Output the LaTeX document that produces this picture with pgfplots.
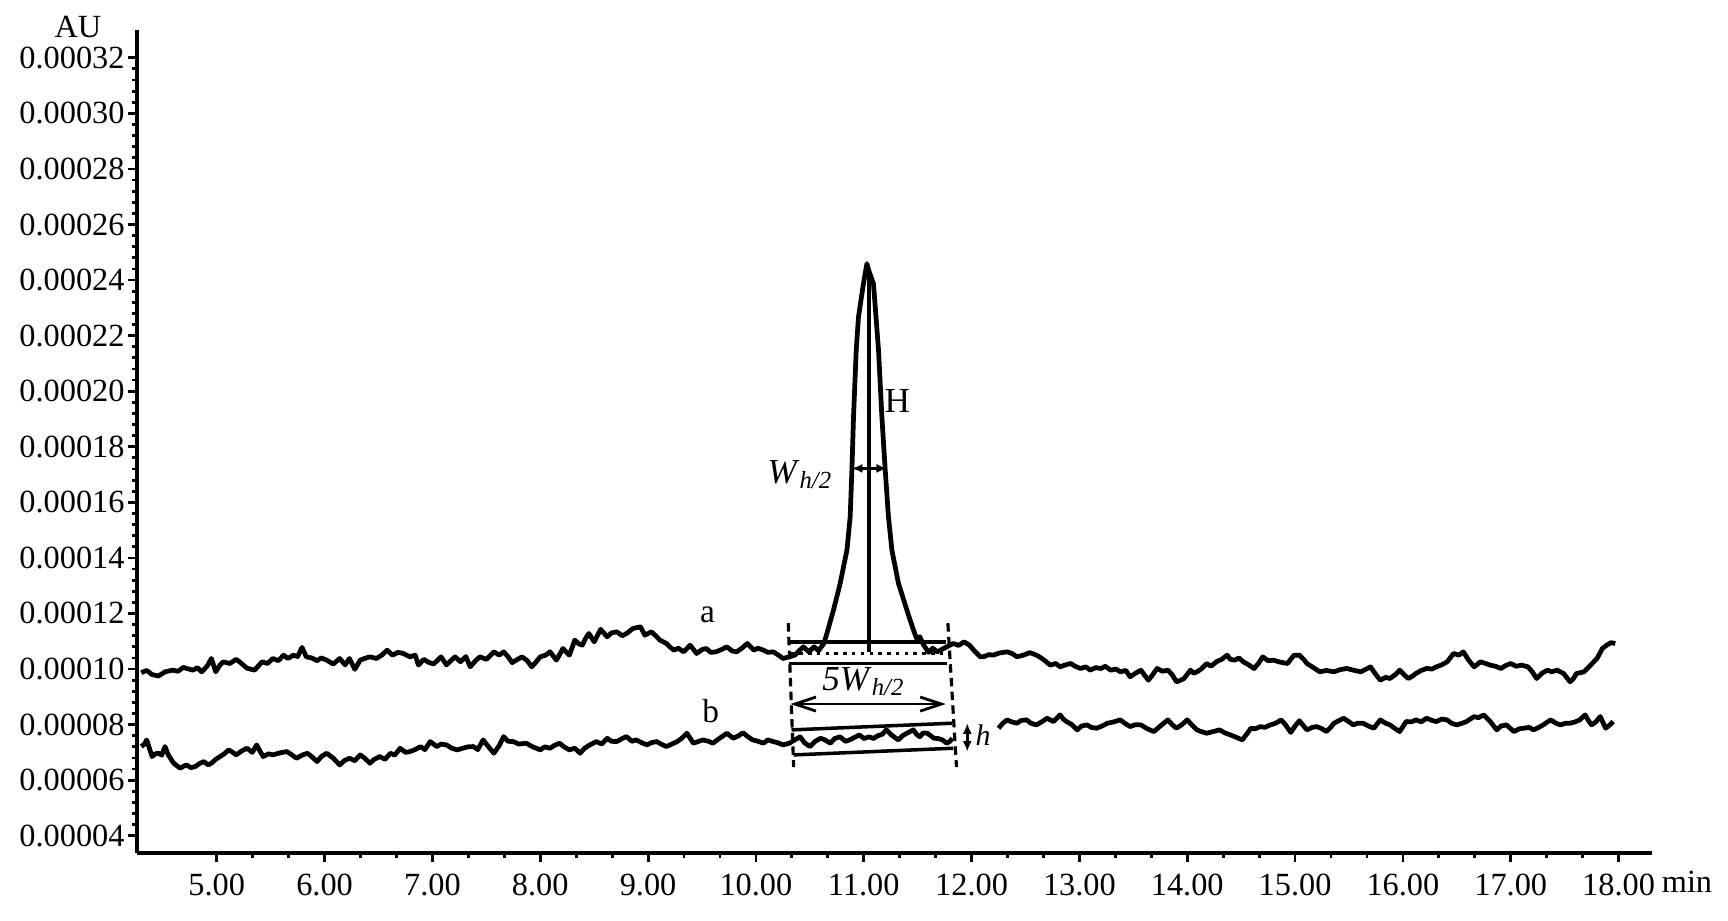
\documentclass[border=0pt]{standalone}
\usepackage{pgfplots}
\pgfplotsset{compat=1.18}
\usepackage{fontspec}
\setmainfont{Liberation Serif}
\usetikzlibrary{arrows.meta}

\pgfplotstableread{
t v
4.30 9.87
4.35 9.95
4.40 9.80
4.46 9.75
4.52 9.90
4.59 9.96
4.64 9.92
4.69 10.06
4.74 10.00
4.78 9.96
4.82 10.05
4.86 9.90
4.91 10.10
4.95 10.38
4.99 9.90
5.03 10.15
5.06 10.26
5.12 10.20
5.18 10.35
5.23 10.20
5.28 10.03
5.35 9.96
5.42 10.26
5.47 10.20
5.52 10.38
5.57 10.30
5.62 10.50
5.66 10.38
5.71 10.50
5.75 10.45
5.79 10.78
5.83 10.44
5.88 10.40
5.93 10.30
5.97 10.40
6.02 10.32
6.08 10.18
6.14 10.38
6.19 10.15
6.23 10.38
6.28 9.99
6.33 10.32
6.37 10.38
6.42 10.44
6.48 10.38
6.53 10.50
6.58 10.68
6.63 10.50
6.68 10.60
6.73 10.56
6.79 10.44
6.84 10.50
6.87 10.14
6.92 10.35
6.96 10.25
7.01 10.18
7.08 10.44
7.13 10.15
7.17 10.30
7.21 10.44
7.26 10.26
7.31 10.45
7.35 10.08
7.40 10.30
7.44 10.44
7.50 10.35
7.57 10.62
7.62 10.50
7.66 10.62
7.70 10.45
7.74 10.23
7.79 10.35
7.83 10.44
7.88 10.30
7.92 10.08
7.96 10.25
8.00 10.44
8.05 10.50
8.09 10.62
8.15 10.32
8.21 10.74
8.27 10.50
8.32 11.04
8.36 10.90
8.39 10.86
8.42 11.10
8.45 11.28
8.50 10.98
8.56 11.43
8.62 11.16
8.66 11.30
8.71 11.34
8.76 11.20
8.80 11.28
8.86 11.46
8.93 11.52
8.97 11.22
9.03 11.34
9.07 11.20
9.11 11.04
9.17 10.92
9.20 10.80
9.24 10.68
9.28 10.75
9.33 10.62
9.39 10.86
9.45 10.56
9.50 10.70
9.54 10.74
9.58 10.60
9.63 10.62
9.68 10.70
9.73 10.80
9.78 10.65
9.82 10.62
9.87 10.75
9.92 10.92
9.98 10.68
10.02 10.75
10.07 10.68
10.11 10.60
10.16 10.62
10.21 10.50
10.25 10.38
10.31 10.44
10.36 10.50
10.40 10.65
10.44 10.80
10.49 10.62
10.54 10.80
10.58 10.66
10.63 10.92
10.658 11.28
10.719 12.12
10.781 13.08
10.844 14.28
10.874 15.48
10.890 17.16
10.905 19.08
10.930 21.47
10.951 22.67
10.997 23.87
11.029 24.59
11.050 24.30
11.090 23.87
11.137 21.47
11.168 19.08
11.199 17.16
11.229 15.48
11.261 14.28
11.322 13.08
11.400 12.12
11.461 11.40
11.49 11.10
11.52 11.16
11.55 10.90
11.60 10.60
11.64 10.75
11.68 10.62
11.72 10.70
11.77 10.80
11.83 10.92
11.88 10.85
11.93 10.98
11.98 10.86
12.02 10.68
12.08 10.44
12.11 10.44
12.16 10.52
12.20 10.50
12.26 10.58
12.33 10.62
12.38 10.55
12.42 10.44
12.48 10.50
12.54 10.59
12.59 10.52
12.63 10.44
12.68 10.30
12.73 10.14
12.78 10.20
12.82 10.08
12.87 10.15
12.92 10.20
12.96 10.10
13.01 10.02
13.06 10.08
13.10 9.96
13.15 10.05
13.20 10.02
13.24 10.10
13.29 9.96
13.34 10.00
13.38 9.90
13.43 9.95
13.47 9.72
13.52 9.85
13.57 9.96
13.60 9.80
13.64 9.60
13.68 9.80
13.72 10.02
13.77 9.92
13.82 9.96
13.86 9.80
13.90 9.54
13.94 9.60
13.97 9.66
14.03 9.96
14.06 9.85
14.09 9.90
14.13 10.00
14.18 10.20
14.22 10.10
14.27 10.26
14.32 10.35
14.37 10.50
14.40 10.35
14.44 10.32
14.48 10.40
14.52 10.26
14.57 10.15
14.62 10.02
14.66 10.20
14.70 10.44
14.75 10.30
14.80 10.32
14.86 10.25
14.93 10.20
14.99 10.50
15.04 10.50
15.08 10.35
15.11 10.20
15.17 10.05
15.23 9.90
15.29 9.95
15.36 9.90
15.42 9.98
15.48 10.02
15.55 9.95
15.61 9.90
15.66 10.00
15.70 10.08
15.74 9.85
15.79 9.60
15.84 9.70
15.88 9.66
15.93 9.80
15.97 9.96
16.01 9.80
16.05 9.66
16.09 9.75
16.12 9.84
16.17 9.95
16.22 10.02
16.27 10.00
16.31 10.08
16.36 10.15
16.41 10.26
16.47 10.56
16.52 10.50
16.56 10.62
16.61 10.32
16.66 10.08
16.72 10.26
16.77 10.20
16.81 10.14
16.86 10.10
16.91 10.02
16.95 10.12
17.00 10.20
17.05 10.10
17.10 10.14
17.16 10.08
17.20 9.90
17.24 9.66
17.29 9.85
17.34 9.96
17.38 9.90
17.43 9.96
17.49 9.84
17.55 9.54
17.58 9.65
17.61 9.84
17.68 9.90
17.74 10.14
17.80 10.38
17.85 10.74
17.89 10.86
17.93 10.95
17.97 10.92
}\traceA

\pgfplotstableread{
t v
4.30 7.21
4.33 7.30
4.35 7.45
4.40 6.85
4.43 6.95
4.46 6.97
4.49 6.90
4.52 7.21
4.55 6.91
4.60 6.61
4.66 6.43
4.69 6.50
4.72 6.55
4.76 6.45
4.80 6.49
4.84 6.60
4.88 6.67
4.92 6.55
4.95 6.61
4.99 6.75
5.03 6.85
5.07 6.95
5.11 7.09
5.15 7.00
5.18 6.91
5.23 7.05
5.28 7.15
5.33 7.00
5.37 7.27
5.40 7.05
5.43 6.85
5.48 6.95
5.52 6.91
5.58 6.98
5.65 7.03
5.70 6.90
5.74 6.79
5.79 6.90
5.84 6.97
5.88 6.85
5.93 6.67
5.97 6.85
6.02 6.97
6.08 6.79
6.14 6.55
6.18 6.70
6.23 6.79
6.28 6.70
6.33 6.91
6.37 6.80
6.42 6.61
6.46 6.75
6.51 6.85
6.56 6.75
6.61 6.97
6.65 6.90
6.70 7.15
6.75 7.00
6.79 7.03
6.84 7.10
6.89 7.21
6.93 7.10
6.98 7.39
7.04 7.21
7.08 7.30
7.13 7.27
7.18 7.15
7.23 7.09
7.28 7.15
7.33 7.20
7.38 7.21
7.42 7.10
7.47 7.45
7.52 7.20
7.57 6.97
7.62 7.25
7.66 7.57
7.70 7.40
7.75 7.39
7.80 7.30
7.87 7.33
7.93 7.20
8.00 7.09
8.04 7.20
8.09 7.15
8.13 7.25
8.18 7.33
8.22 7.20
8.27 7.09
8.32 7.15
8.37 6.97
8.41 7.15
8.46 7.27
8.52 7.39
8.57 7.30
8.62 7.51
8.66 7.40
8.71 7.39
8.76 7.50
8.80 7.57
8.85 7.40
8.89 7.45
8.94 7.35
8.99 7.27
9.03 7.35
9.08 7.39
9.12 7.30
9.17 7.21
9.22 7.30
9.27 7.39
9.31 7.50
9.36 7.69
9.42 7.33
9.47 7.40
9.51 7.45
9.56 7.40
9.60 7.33
9.66 7.50
9.73 7.69
9.79 7.51
9.84 7.60
9.88 7.71
9.93 7.55
9.97 7.45
10.02 7.40
10.07 7.33
10.11 7.45
10.16 7.39
10.20 7.35
10.25 7.27
10.31 7.33
10.36 7.45
10.41 7.56
10.45 7.35
10.50 7.21
10.55 7.40
10.60 7.51
10.64 7.45
10.69 7.33
10.73 7.50
10.78 7.56
10.83 7.40
10.87 7.45
10.92 7.55
10.96 7.63
11.00 7.50
11.05 7.56
11.09 7.50
11.13 7.60
11.17 7.65
11.21 7.81
11.25 7.65
11.28 7.56
11.32 7.45
11.36 7.60
11.40 7.69
11.43 7.75
11.46 7.81
11.49 7.65
11.52 7.56
11.55 7.70
11.59 7.69
11.62 7.60
11.65 7.51
11.69 7.50
11.73 7.45
11.77 7.33
11.80 7.40
11.82 7.51
}\traceBone

\pgfplotstableread{
t v
12.25 7.87
12.29 8.05
12.33 8.17
12.37 8.10
12.42 8.05
12.46 8.15
12.51 8.17
12.55 8.05
12.60 7.99
12.65 8.10
12.70 8.23
12.76 8.11
12.82 8.35
12.85 8.20
12.88 8.11
12.93 8.00
12.98 7.81
13.02 7.95
13.07 7.99
13.11 7.90
13.16 7.87
13.21 7.95
13.26 8.05
13.32 8.10
13.38 8.17
13.42 8.05
13.47 7.93
13.52 8.00
13.57 7.99
13.63 7.85
13.69 7.75
13.75 7.95
13.82 8.17
13.86 8.00
13.90 7.87
13.95 8.00
14.00 8.17
14.04 8.00
14.09 7.81
14.13 7.75
14.18 7.69
14.24 7.75
14.30 7.81
14.35 7.70
14.40 7.63
14.45 7.55
14.51 7.45
14.55 7.65
14.59 7.87
14.63 7.85
14.68 7.93
14.72 7.90
14.77 7.99
14.82 8.05
14.87 8.17
14.91 8.00
14.96 7.72
15.00 7.95
15.04 8.14
15.08 7.95
15.11 7.81
15.16 7.90
15.20 7.93
15.25 7.85
15.29 7.75
15.33 7.90
15.36 8.05
15.41 8.15
15.45 8.23
15.50 8.10
15.54 7.99
15.58 8.05
15.63 8.05
15.68 7.95
15.73 7.87
15.79 8.17
15.84 8.05
15.88 7.99
15.93 7.85
15.97 7.75
16.03 8.11
16.08 8.10
16.12 8.17
16.17 8.10
16.22 8.23
16.27 8.15
16.31 8.11
16.36 8.20
16.41 8.17
16.45 8.05
16.50 7.99
16.55 8.05
16.59 8.11
16.66 8.29
16.70 8.25
16.75 8.35
16.81 8.11
16.87 7.81
16.91 7.95
16.96 7.99
17.00 7.85
17.03 7.75
17.08 7.85
17.12 7.87
17.17 7.90
17.21 7.81
17.26 7.90
17.30 7.99
17.37 8.17
17.42 8.05
17.46 7.99
17.51 8.05
17.55 8.05
17.60 8.10
17.64 8.17
17.69 8.35
17.72 8.15
17.75 7.99
17.79 8.10
17.83 8.29
17.88 7.87
17.92 7.99
17.95 8.11
}\traceBtwo

\begin{document}
\begin{tikzpicture}
\begin{axis}[
  at={(0,0)}, anchor=south west,
  scale only axis, width=15.15cm, height=8.23cm,
  xmin=4.26, xmax=18.31, ymin=3.38, ymax=33.0,
  axis lines=left,
  axis line style={line width=0.9pt, -},
  tick align=outside,
  major tick length=0.09cm, minor tick length=0.05cm,
  every tick/.style={line width=0.8pt, black},
  xtick={5,6,...,18},
  xticklabels={5.00,6.00,7.00,8.00,9.00,10.00,11.00,12.00,13.00,14.00,15.00,16.00,17.00,18.00},
  minor x tick num=2,
  ytick={4,6,...,32},
  yticklabels={0.00004,0.00006,0.00008,0.00010,0.00012,0.00014,0.00016,0.00018,0.00020,0.00022,0.00024,0.00026,0.00028,0.00030,0.00032},
  minor y tick num=4,
  tick label style={font=\fontsize{9.2}{11}\selectfont},
  yticklabel style={xshift=0.09cm},
  clip=false,
]
% traces
\addplot[black, line width=1.35pt, line join=round] table[x=t,y=v] {\traceA};
\addplot[black, line width=1.35pt, line join=round] table[x=t,y=v] {\traceBone};
\addplot[black, line width=1.35pt, line join=round] table[x=t,y=v] {\traceBtwo};
% peak height line
\addplot[black, line width=1.1pt] coordinates {(11.045,24.35) (11.045,10.62)};
% dashed verticals
\addplot[black, line width=0.9pt, dash pattern=on 2.4pt off 1.5pt] coordinates {(10.30,11.65) (10.35,6.47)};
\addplot[black, line width=0.9pt, dash pattern=on 2.4pt off 1.5pt] coordinates {(11.78,11.65) (11.86,6.47)};
% box around a
\addplot[black, line width=1pt] coordinates {(10.32,10.98) (11.76,10.98)};
\addplot[black, line width=1pt, dash pattern=on 1pt off 1.5pt] coordinates {(10.32,10.56) (11.76,10.56)};
\addplot[black, line width=1pt] coordinates {(10.31,10.20) (11.77,10.20)};
% 5W arrow
\addplot[black, line width=0.8pt, {Straight Barb[length=6pt,width=4pt]}-{Straight Barb[length=6pt,width=4pt]}] coordinates {(10.32,8.74) (11.76,8.74)};
% box around b
\addplot[black, line width=1pt] coordinates {(10.33,7.81) (11.82,8.05)};
\addplot[black, line width=1pt] coordinates {(10.35,6.91) (11.83,7.15)};
% h arrow
\addplot[black, line width=0.7pt, {Latex[length=3pt,width=2.6pt]}-{Latex[length=3pt,width=2.6pt]}] coordinates {(11.96,7.03) (11.96,8.05)};
% W_h/2 arrow
\addplot[black, line width=0.7pt, {Latex[length=3pt,width=2.6pt]}-{Latex[length=3pt,width=2.6pt]}] coordinates {(10.89,17.22) (11.215,17.22)};
% labels
\node[font=\fontsize{9.5}{11}\selectfont] at (axis cs:9.55,11.94) {a};
\node[font=\fontsize{9.5}{11}\selectfont] at (axis cs:9.58,8.50) {b};
\node[font=\fontsize{10}{11}\selectfont] at (axis cs:11.31,19.64) {H};
\node[font=\fontsize{10}{11}\selectfont, anchor=east, inner sep=0pt] at (axis cs:10.72,17.0) {\textit{W}\textsubscript{\itshape h/2}};
\node[font=\fontsize{10}{11}\selectfont] at (axis cs:11.0,9.55) {\textit{5W}\textsubscript{\itshape h/2}};
\node[font=\fontsize{8.5}{10}\selectfont, anchor=west, inner sep=0pt] at (axis cs:12.03,7.63) {\textit{h}};
\end{axis}
\node[font=\fontsize{9.2}{11}\selectfont] at (-0.59cm,8.26cm) {AU};
\node[font=\fontsize{9.2}{11}\selectfont] at (15.50cm,-0.29cm) {min};
\pgfresetboundingbox
\useasboundingbox (-1.37cm,-0.68cm) rectangle (15.91cm,8.53cm);
\end{tikzpicture}
\end{document}
